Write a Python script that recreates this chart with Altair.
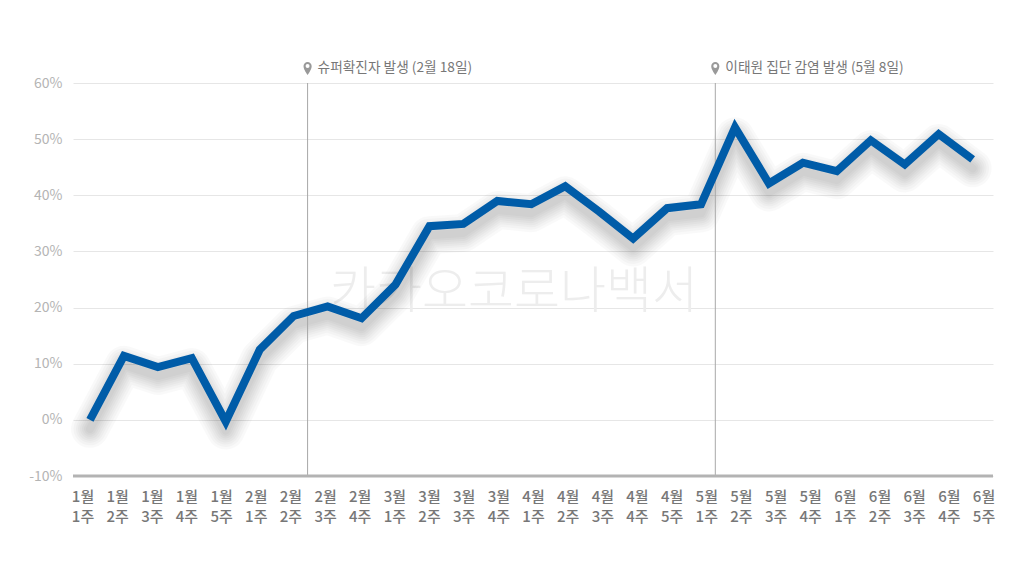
import altair as alt
import pandas as pd

FONT = "Noto Sans CJK KR"
weeks = ["1월\n1주","1월\n2주","1월\n3주","1월\n4주","1월\n5주","2월\n1주","2월\n2주","2월\n3주","2월\n4주",
         "3월\n1주","3월\n2주","3월\n3주","3월\n4주","4월\n1주","4월\n2주","4월\n3주","4월\n4주","4월\n5주",
         "5월\n1주","5월\n2주","5월\n3주","5월\n4주","6월\n1주","6월\n2주","6월\n3주","6월\n4주","6월\n5주"]
values = [0.0,11.4,9.4,11.0,-0.3,12.5,18.5,20.2,18.1,24.1,34.5,34.9,39.0,38.4,41.6,37.1,32.3,37.7,38.4,
          52.1,42.1,45.8,44.3,49.8,45.5,50.9,46.4]
event_pos = [6.41, 18.42]
event_labels = ["슈퍼확진자 발생 (2월 18일)", "이태원 집단 감염 발생 (5월 8일)"]
yticks = [-10,0,10,20,30,40,50,60]

df = pd.DataFrame({"i": range(len(values)), "v": values})
labels_df = pd.DataFrame({"w": [w.replace("\n", "|") + f"#{k}" for k, w in enumerate(weeks)]})
ev = pd.DataFrame({"i": event_pos, "t": event_labels, "top": [60, 60], "bottom": [-10, -10], "pin": [62.6, 62.6]})

xs = alt.Scale(domain=[-0.5, 26.6], nice=False, zero=False)
ys = alt.Scale(domain=[-10, 60], nice=False, zero=False)
X = alt.X("i:Q", scale=xs, axis=None)
yaxis = alt.Axis(values=yticks, labelExpr="datum.value + '%'", domain=False, ticks=False, title=None,
                 gridColor="#e6e6e6", gridWidth=1, labelColor="#b4b4b4", labelFont=FONT,
                 labelFontSize=14, labelPadding=11, labelFontWeight=400)
Yv = alt.Y("v:Q", scale=ys, axis=yaxis, title=None)
Ypin = alt.Y("pin:Q", scale=ys, axis=yaxis, title=None)
Ytop = alt.Y("top:Q", scale=ys, axis=yaxis, title=None)

watermark = alt.Chart(pd.DataFrame({"t": ["카카오코로나백서"]})).mark_text(
    font=FONT, fontSize=50, fontWeight=300, color="#ededed", align="center", baseline="middle"
).encode(x=alt.value(441), y=alt.value(210), text="t:N")

def shadow(w, op):
    return alt.Chart(df).mark_line(color="#000000", strokeWidth=w, opacity=op, yOffset=9,
                                   strokeJoin="round", strokeCap="round").encode(x=X, y=Yv)

shadows = [shadow(w, 0.022) for w in (38, 33, 28, 24, 20, 16, 12, 8)]

line = alt.Chart(df).mark_line(color="#005ca8", strokeWidth=8, strokeJoin="miter", strokeCap="butt").encode(x=X, y=Yv)

rules = alt.Chart(ev).mark_rule(color="#a8a8a8", strokeWidth=1).encode(x=X, y=Ytop, y2="bottom:Q")

base_line = alt.Chart(pd.DataFrame({"v": [-10]})).mark_rule(color="#b3b3b3", strokeWidth=3).encode(y=Yv)

PIN = "M0,1 C-0.55,0.2 -0.62,-0.1 -0.62,-0.38 A0.62,0.62 0 1 1 0.62,-0.38 C0.62,-0.1 0.55,0.2 0,1 Z"
pins = alt.Chart(ev).mark_point(shape=PIN, filled=True, color="#999999", opacity=1, size=170).encode(x=X, y=Ypin)
holes = alt.Chart(ev).mark_point(shape="circle", filled=True, color="#ffffff", opacity=1, size=16, yOffset=-2.5).encode(x=X, y=Ypin)
ev_text = alt.Chart(ev).mark_text(font=FONT, fontSize=13.7, color="#777777", align="left", baseline="middle",
                                  dx=10, fontWeight=400).encode(x=X, y=Ypin, text="t:N")

wlabels = alt.Chart(labels_df).transform_calculate(
    lines="split(split(datum.w, '#')[0], '|')"
).mark_text(font=FONT, fontSize=15, fontWeight=500, color="#777777", align="center", baseline="top",
            lineHeight=20).encode(
    x=alt.X("w:N", sort=None, axis=None,
            scale=alt.Scale(type="point", domain=labels_df["w"].tolist(), range=[10, 911], padding=0)),
    y=alt.value(407),
    text="lines:N")

main = alt.layer(watermark, *shadows, rules, line, base_line, pins, holes, ev_text)
chart = alt.layer(main, wlabels).resolve_scale(x="independent").properties(
    width=920, height=393,
    padding={"left": 65, "top": 75, "right": 23, "bottom": 95},
    autosize=alt.AutoSizeParams(type="none"),
    background="#ffffff",
).configure_view(stroke=None)

chart.save("out.html", embed_options={"renderer": "svg", "actions": False})
